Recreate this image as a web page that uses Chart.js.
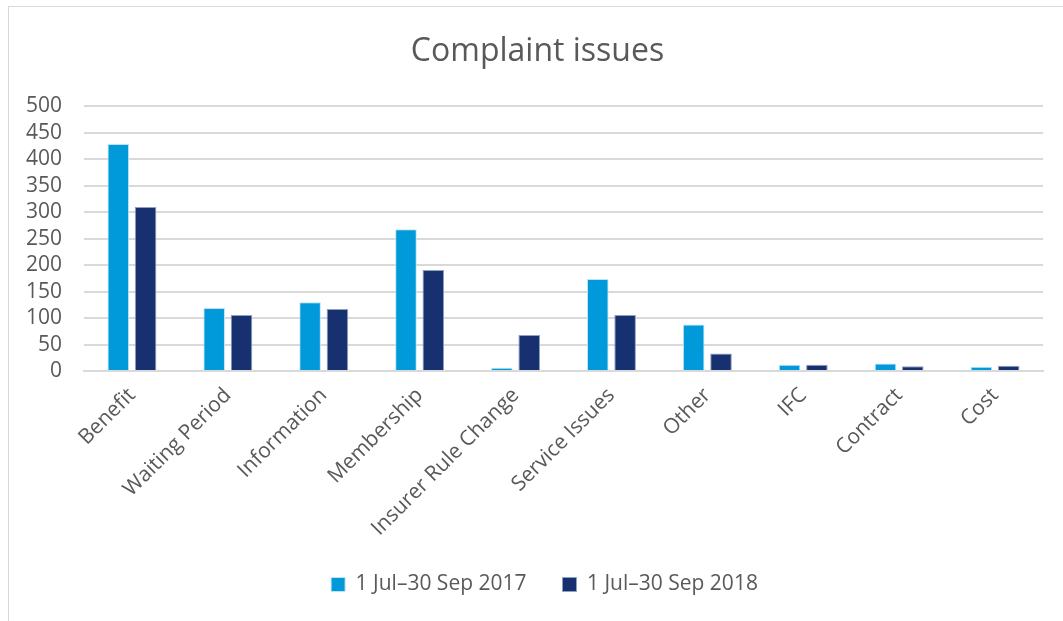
<!DOCTYPE html>
<html>
<head>
<meta charset="utf-8">
<script src="https://cdn.jsdelivr.net/npm/chart.js@4/dist/chart.umd.min.js"></script>
<style>
    html, body { margin: 0; padding: 0; background: #fff; overflow: hidden; }
    #frame {
        position: absolute; left: 8px; top: 6px; width: 1200px; height: 800px;
        border: 1px solid #d9d9d9; box-sizing: border-box;
    }
    #wrap { position: absolute; left: 0; top: 0; width: 1063px; height: 621px; }
</style>
</head>
<body>
<div id="frame"></div>
<div id="wrap"><canvas id="complaintChart" width="1063" height="621"></canvas></div>
<script>
// categories and values
const categories = ["Benefit", "Waiting Period", "Information", "Membership", "Insurer Rule Change",
    "Service Issues", "Other", "IFC", "Contract", "Cost"];
const values2017 = [429, 119, 130, 268, 6, 174, 88, 12, 14, 8];
const values2018 = [310, 106, 117, 191, 68, 106, 33, 12, 9, 10];
const seriesLabels = ["1 Jul\u201330 Sep 2017", "1 Jul\u201330 Sep 2018"];
const yTicks = [0, 50, 100, 150, 200, 250, 300, 350, 400, 450, 500];

const textColor = "#595959";
const fontFamily = "'Open Sans', 'DejaVu Sans', sans-serif";

// nudge title and legend right so they sit centred like in the original
const shiftBlocks = {
    id: "shiftBlocks",
    afterLayout(chart) {
        if (chart.titleBlock) { chart.titleBlock.left += 16; chart.titleBlock.right += 16; }
        if (chart.legend) { chart.legend.left += 23; chart.legend.right += 23; }
    }
};

let ctx = document.getElementById("complaintChart").getContext("2d");
new Chart(ctx, {
    type: "bar",
    data: {
        labels: categories,
        datasets: [
            { label: seriesLabels[0], data: values2017, backgroundColor: "#009ADA", borderColor: "#bfe3f5", borderWidth: 1 },
            { label: seriesLabels[1], data: values2018, backgroundColor: "#173070", borderColor: "#8fa0c4", borderWidth: 1 }
        ]
    },
    plugins: [shiftBlocks],
    options: {
        responsive: false,
        animation: false,
        devicePixelRatio: 1,
        categoryPercentage: 0.57,
        barPercentage: 0.79,
        layout: { padding: { left: 0, right: 20, top: 0, bottom: 16 } },
        plugins: {
            title: {
                display: true,
                text: "Complaint issues",
                color: textColor,
                font: { family: fontFamily, size: 32, weight: "normal" },
                padding: { top: 33, bottom: 35 }
            },
            legend: {
                position: "bottom",
                labels: {
                    color: textColor,
                    font: { family: fontFamily, size: 21 },
                    boxWidth: 14,
                    boxHeight: 14,
                    padding: 36
                }
            },
            tooltip: { enabled: false }
        },
        scales: {
            x: {
                grid: { display: false },
                border: { color: "#d9d9d9", width: 2 },
                ticks: {
                    color: textColor,
                    font: { family: fontFamily, size: 21 },
                    minRotation: 45,
                    maxRotation: 45,
                    padding: 4
                },
                afterFit: scale => { scale.height = 167; }
            },
            y: {
                min: 0,
                max: 500,
                afterBuildTicks: scale => { scale.ticks = yTicks.map(v => ({ value: v })); },
                grid: { color: "#d9d9d9", lineWidth: 2, drawTicks: false },
                border: { display: false },
                ticks: {
                    color: textColor,
                    font: { family: fontFamily, size: 21, lineHeight: 1 },
                    autoSkip: false,
                    padding: 22
                },
                afterFit: scale => { scale.width = 84; }
            }
        }
    }
});
</script>
</body>
</html>
